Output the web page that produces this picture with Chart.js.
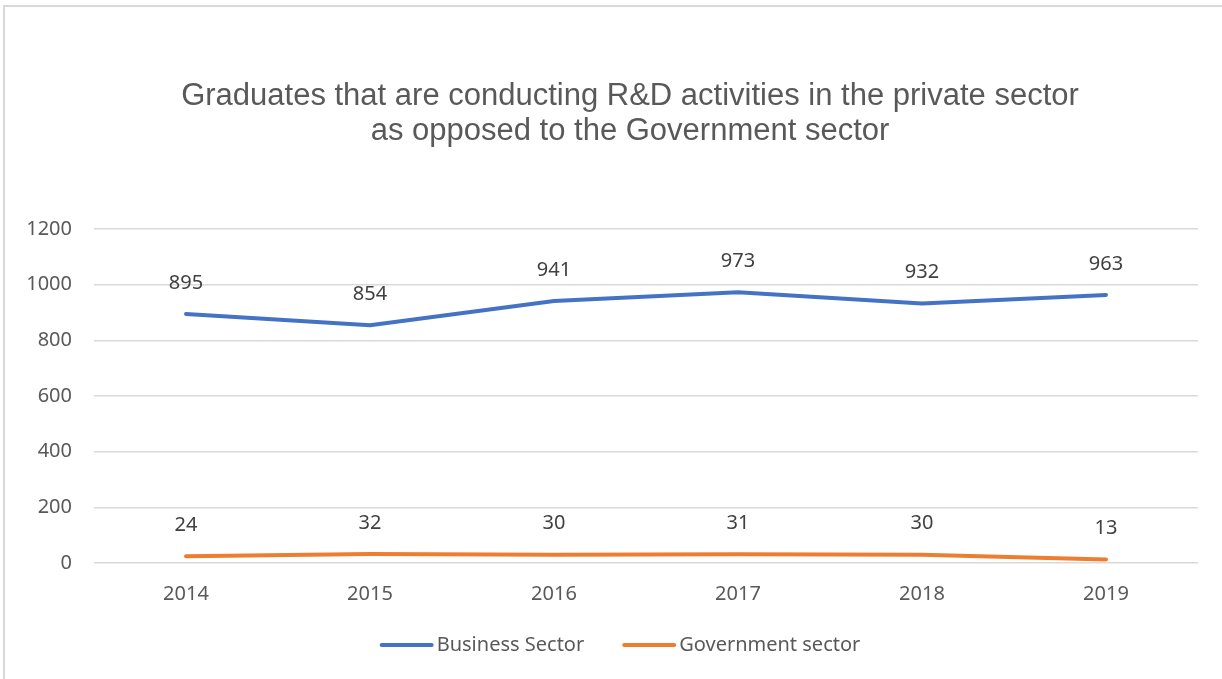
<!DOCTYPE html>
<html>
<head>
<meta charset="utf-8">
<script src="https://cdn.jsdelivr.net/npm/chart.js@4/dist/chart.umd.min.js"></script>
<style>
  html, body { margin: 0; padding: 0; background: #fff; overflow: hidden; }
  #wrap { position: relative; width: 1222px; height: 679px; }
  #frame { position: absolute; left: 3px; top: 5px; width: 1240px; height: 700px; border: 2px solid #d9d9d9; box-sizing: border-box; pointer-events: none; }
  canvas { position: absolute; left: 0; top: 0; }
</style>
</head>
<body>
<div id="wrap">
  <canvas id="c" width="1222" height="679"></canvas>
  <div id="frame"></div>
</div>
<script>
const categories = ["2014", "2015", "2016", "2017", "2018", "2019"];
const businessSector = [895, 854, 941, 973, 932, 963];
const governmentSector = [24, 32, 30, 31, 30, 13];
const yTicks = [0, 200, 400, 600, 800, 1000, 1200];
const titleLines = ["Graduates that are conducting R&D activities in the private sector", "as opposed to the Government sector"];

const FONT = "'Noto Sans', 'Open Sans', sans-serif";
const TITLE_FONT = "'Liberation Sans', Arial, sans-serif";

const customTitle = {
  id: 'customTitle',
  afterDraw(chart) {
    const ctx = chart.ctx;
    ctx.save();
    ctx.font = "31px " + TITLE_FONT;
    ctx.fillStyle = "#595959";
    ctx.textAlign = "center";
    ctx.textBaseline = "middle";
    titleLines.forEach((t, i) => ctx.fillText(t, 630, 96 + i * 35));
    ctx.restore();
  }
};

const customLegend = {
  id: 'customLegend',
  afterDraw(chart) {
    const ctx = chart.ctx;
    ctx.save();
    ctx.font = "20px " + FONT;
    ctx.textBaseline = "middle";
    ctx.textAlign = "left";
    const lineW = 54, gapText = 3, gapItem = 38, y = 645;
    const items = chart.data.datasets.map(ds => ({ label: ds.label, color: ds.borderColor, w: ctx.measureText(ds.label).width }));
    let total = 0;
    items.forEach((it, i) => { total += lineW + gapText + it.w + (i ? gapItem : 0); });
    let x = 620 - total / 2;
    items.forEach((it, i) => {
      if (i) x += gapItem;
      ctx.strokeStyle = it.color;
      ctx.lineWidth = 4;
      ctx.lineCap = 'round';
      ctx.beginPath();
      ctx.moveTo(x + 2, y);
      ctx.lineTo(x + lineW - 2, y);
      ctx.stroke();
      x += lineW + gapText;
      ctx.fillStyle = "#595959";
      ctx.fillText(it.label, x, y);
      x += it.w;
    });
    ctx.restore();
  }
};

const dataLabels = {
  id: 'dataLabels',
  afterDatasetsDraw(chart) {
    const ctx = chart.ctx;
    ctx.save();
    ctx.font = "20px " + FONT;
    ctx.fillStyle = "#404040";
    ctx.textAlign = "center";
    ctx.textBaseline = "middle";
    chart.data.datasets.forEach((ds, i) => {
      const meta = chart.getDatasetMeta(i);
      meta.data.forEach((pt, j) => {
        ctx.fillText(String(ds.data[j]), pt.x, pt.y - 31);
      });
    });
    ctx.restore();
  }
};

new Chart(document.getElementById('c'), {
  type: 'line',
  data: {
    labels: categories,
    datasets: [
      { label: "Business Sector", data: businessSector, borderColor: "#4472C4", backgroundColor: "#4472C4", borderWidth: 4, pointRadius: 0, tension: 0, borderCapStyle: 'round' },
      { label: "Government sector", data: governmentSector, borderColor: "#ED7D31", backgroundColor: "#ED7D31", borderWidth: 4, pointRadius: 0, tension: 0, borderCapStyle: 'round' }
    ]
  },
  options: {
    responsive: false,
    animation: false,
    devicePixelRatio: 1,
    layout: { padding: { left: 0, right: 24, top: 229, bottom: 64 } },
    plugins: {
      tooltip: { enabled: false },
      title: { display: false },
      legend: { display: false }
    },
    scales: {
      x: {
        offset: true,
        grid: { display: false },
        border: { display: false },
        ticks: { color: "#595959", font: { family: FONT, size: 20 }, padding: 11 },
        afterFit(s) { s.height = 52; }
      },
      y: {
        min: 0, max: 1200,
        afterBuildTicks(s) { s.ticks = yTicks.map(v => ({ value: v })); },
        grid: { color: "#d9d9d9", lineWidth: 1.5, drawTicks: false },
        border: { display: false },
        ticks: { color: "#595959", font: { family: FONT, size: 20 }, padding: 22, callback: (v) => String(v) },
        afterFit(s) { s.width = 94; }
      }
    }
  },
  plugins: [dataLabels, customTitle, customLegend]
});
</script>
</body>
</html>
